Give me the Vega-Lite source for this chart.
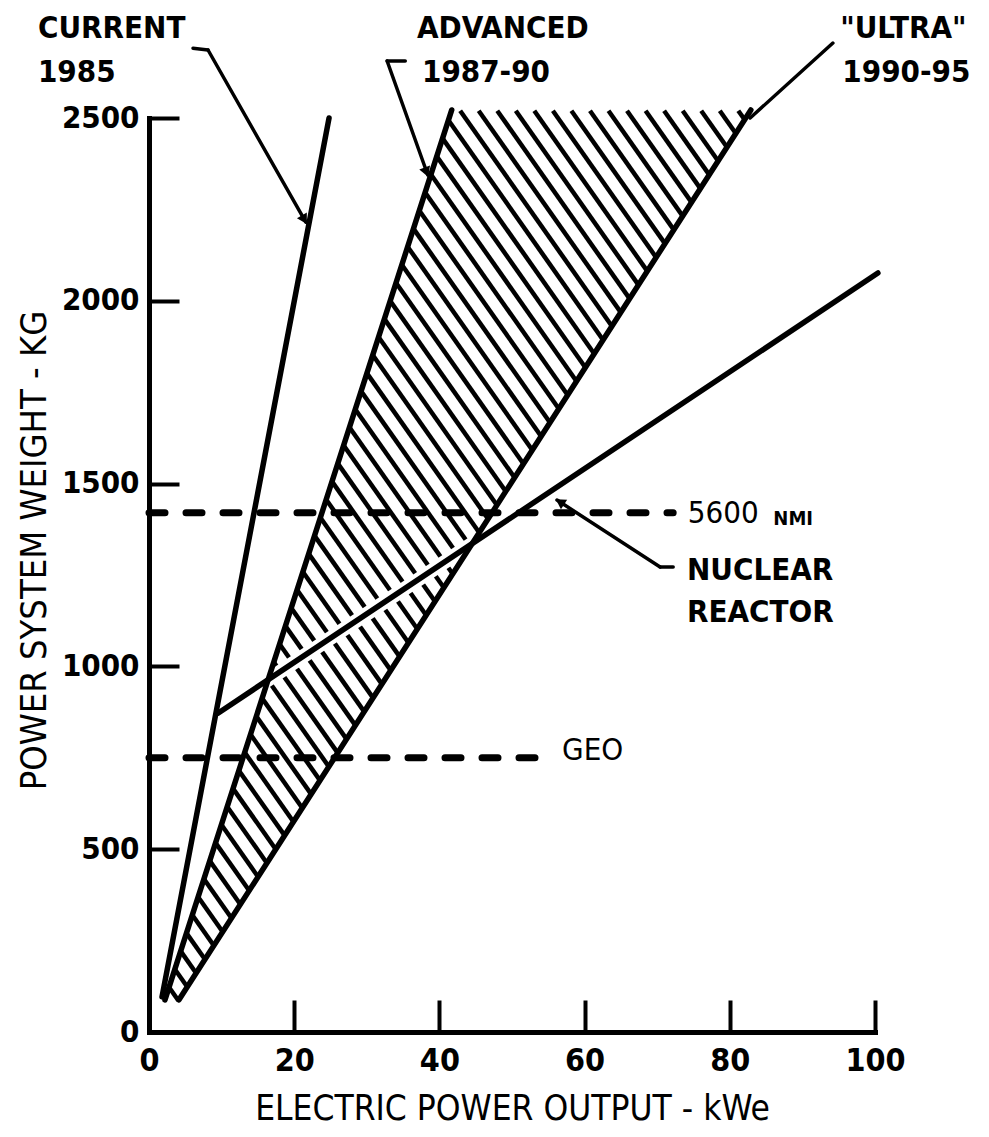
{
  "$schema": "https://vega.github.io/schema/vega-lite/v6.json",
  "width": 726,
  "height": 914,
  "autosize": "none",
  "padding": {"left": 149, "top": 118, "right": 114, "bottom": 105},
  "background": "white",
  "config": {
    "view": {"stroke": null},
    "font": "DejaVu Sans Condensed, Liberation Sans Narrow, sans-serif"
  },
  "datasets": {
    "hatch": [
      {"x": 2.76, "y": 122.3, "x2": 4.04, "y2": 86.1},
      {"x": 3.56, "y": 171.7, "x2": 5.26, "y2": 123.8},
      {"x": 4.36, "y": 221.1, "x2": 6.48, "y2": 161.4},
      {"x": 5.16, "y": 270.5, "x2": 7.70, "y2": 199.0},
      {"x": 5.97, "y": 319.9, "x2": 8.92, "y2": 236.6},
      {"x": 6.77, "y": 369.3, "x2": 10.14, "y2": 274.3},
      {"x": 7.57, "y": 418.7, "x2": 11.35, "y2": 311.9},
      {"x": 8.37, "y": 468.1, "x2": 12.57, "y2": 349.5},
      {"x": 9.17, "y": 517.4, "x2": 13.79, "y2": 387.2},
      {"x": 9.98, "y": 566.8, "x2": 15.01, "y2": 424.8},
      {"x": 10.78, "y": 616.2, "x2": 16.23, "y2": 462.4},
      {"x": 11.58, "y": 665.6, "x2": 17.45, "y2": 500.0},
      {"x": 12.38, "y": 715.0, "x2": 18.67, "y2": 537.7},
      {"x": 13.19, "y": 764.4, "x2": 19.89, "y2": 575.3},
      {"x": 13.99, "y": 813.8, "x2": 21.11, "y2": 612.9},
      {"x": 14.79, "y": 863.2, "x2": 22.33, "y2": 650.6},
      {"x": 15.59, "y": 912.6, "x2": 23.55, "y2": 688.2},
      {"x": 16.40, "y": 962.0, "x2": 24.77, "y2": 725.8},
      {"x": 17.20, "y": 1011.4, "x2": 25.99, "y2": 763.4},
      {"x": 18.00, "y": 1060.8, "x2": 27.21, "y2": 801.1},
      {"x": 18.80, "y": 1110.1, "x2": 28.43, "y2": 838.7},
      {"x": 19.60, "y": 1159.5, "x2": 29.64, "y2": 876.3},
      {"x": 20.41, "y": 1208.9, "x2": 30.86, "y2": 914.0},
      {"x": 21.21, "y": 1258.3, "x2": 32.08, "y2": 951.6},
      {"x": 22.01, "y": 1307.7, "x2": 33.30, "y2": 989.2},
      {"x": 22.81, "y": 1357.1, "x2": 34.52, "y2": 1026.8},
      {"x": 23.62, "y": 1406.5, "x2": 35.74, "y2": 1064.5},
      {"x": 24.42, "y": 1455.9, "x2": 36.96, "y2": 1102.1},
      {"x": 25.22, "y": 1505.3, "x2": 38.18, "y2": 1139.7},
      {"x": 26.02, "y": 1554.7, "x2": 39.40, "y2": 1177.4},
      {"x": 26.82, "y": 1604.0, "x2": 40.62, "y2": 1215.0},
      {"x": 27.63, "y": 1653.4, "x2": 41.84, "y2": 1252.6},
      {"x": 28.43, "y": 1702.8, "x2": 43.06, "y2": 1290.2},
      {"x": 29.23, "y": 1752.2, "x2": 44.28, "y2": 1327.9},
      {"x": 30.03, "y": 1801.6, "x2": 45.50, "y2": 1365.5},
      {"x": 30.84, "y": 1851.0, "x2": 46.71, "y2": 1403.1},
      {"x": 31.64, "y": 1900.4, "x2": 47.93, "y2": 1440.8},
      {"x": 32.44, "y": 1949.8, "x2": 49.15, "y2": 1478.4},
      {"x": 33.24, "y": 1999.2, "x2": 50.37, "y2": 1516.0},
      {"x": 34.04, "y": 2048.6, "x2": 51.59, "y2": 1553.6},
      {"x": 34.85, "y": 2097.9, "x2": 52.81, "y2": 1591.3},
      {"x": 35.65, "y": 2147.3, "x2": 54.03, "y2": 1628.9},
      {"x": 36.45, "y": 2196.7, "x2": 55.25, "y2": 1666.5},
      {"x": 37.25, "y": 2246.1, "x2": 56.47, "y2": 1704.2},
      {"x": 38.06, "y": 2295.5, "x2": 57.69, "y2": 1741.8},
      {"x": 38.86, "y": 2344.9, "x2": 58.91, "y2": 1779.4},
      {"x": 39.66, "y": 2394.3, "x2": 60.13, "y2": 1817.0},
      {"x": 40.46, "y": 2443.7, "x2": 61.35, "y2": 1854.7},
      {"x": 41.27, "y": 2493.1, "x2": 62.57, "y2": 1892.3},
      {"x": 42.86, "y": 2520, "x2": 63.79, "y2": 1929.9},
      {"x": 45.41, "y": 2520, "x2": 65.01, "y2": 1967.6},
      {"x": 47.97, "y": 2520, "x2": 66.22, "y2": 2005.2},
      {"x": 50.52, "y": 2520, "x2": 67.44, "y2": 2042.8},
      {"x": 53.07, "y": 2520, "x2": 68.66, "y2": 2080.4},
      {"x": 55.63, "y": 2520, "x2": 69.88, "y2": 2118.1},
      {"x": 58.18, "y": 2520, "x2": 71.10, "y2": 2155.7},
      {"x": 60.74, "y": 2520, "x2": 72.32, "y2": 2193.3},
      {"x": 63.29, "y": 2520, "x2": 73.54, "y2": 2231.0},
      {"x": 65.84, "y": 2520, "x2": 74.76, "y2": 2268.6},
      {"x": 68.40, "y": 2520, "x2": 75.98, "y2": 2306.2},
      {"x": 70.95, "y": 2520, "x2": 77.20, "y2": 2343.8},
      {"x": 73.51, "y": 2520, "x2": 78.42, "y2": 2381.5},
      {"x": 76.06, "y": 2520, "x2": 79.64, "y2": 2419.1},
      {"x": 78.62, "y": 2520, "x2": 80.86, "y2": 2456.7},
      {"x": 81.17, "y": 2520, "x2": 82.08, "y2": 2494.4}
    ],
    "curves": [
      {"name": "CURRENT 1985", "x": 1.79, "y": 96, "x2": 24.8, "y2": 2500},
      {"name": "ADVANCED 1987-90", "x": 2.2, "y": 88, "x2": 41.7, "y2": 2522},
      {"name": "ULTRA 1990-95", "x": 4.13, "y": 88, "x2": 82.9, "y2": 2522},
      {"name": "NUCLEAR REACTOR", "x": 9.5, "y": 872, "x2": 100.4, "y2": 2076}
    ],
    "levels": [
      {"name": "5600 NMI", "y": 1420, "x": 0, "x2": 72.2},
      {"name": "GEO", "y": 750, "x": 0, "x2": 54.5}
    ],
    "leaders": [
      {"name": "CURRENT", "x": 6.06, "y": 2691, "x2": 8.13, "y2": 2686},
      {"name": "CURRENT", "x": 8.13, "y": 2686, "x2": 21.6, "y2": 2215},
      {"name": "ADVANCED", "x": 35.3, "y": 2656, "x2": 32.8, "y2": 2656},
      {"name": "ADVANCED", "x": 32.8, "y": 2656, "x2": 38.4, "y2": 2344},
      {"name": "ULTRA", "x": 94.2, "y": 2705, "x2": 82.8, "y2": 2500},
      {"name": "NUCLEAR", "x": 72.2, "y": 1272, "x2": 70.4, "y2": 1272},
      {"name": "NUCLEAR", "x": 70.4, "y": 1272, "x2": 56.2, "y2": 1455}
    ],
    "arrows": [
      {"name": "CURRENT", "x": 21.4, "y": 2222},
      {"name": "ADVANCED", "x": 38.2, "y": 2352},
      {"name": "NUCLEAR", "x": 56.6, "y": 1450}
    ],
    "labels": [
      {"text": "CURRENT", "x": -15.3, "y": 2743},
      {"text": "1985", "x": -15.3, "y": 2623},
      {"text": "ADVANCED", "x": 36.9, "y": 2743},
      {"text": "1987-90", "x": 37.6, "y": 2623},
      {"text": "\"ULTRA\"", "x": 95.2, "y": 2743},
      {"text": "1990-95", "x": 95.5, "y": 2623},
      {"text": "NUCLEAR", "x": 74.1, "y": 1261},
      {"text": "REACTOR", "x": 74.1, "y": 1146}
    ],
    "notes": [
      {"text": "5600", "x": 74.2, "y": 1417},
      {"text": "GEO", "x": 56.9, "y": 769}
    ],
    "units": [
      {"text": "NMI", "x": 86.0, "y": 1404}
    ]
  },
  "encoding": {
    "x": {
      "field": "x",
      "type": "quantitative",
      "scale": {"domain": [0, 100], "nice": false, "zero": false},
      "axis": {
        "values": [0, 20, 40, 60, 80, 100],
        "format": "d",
        "title": "ELECTRIC POWER OUTPUT - kWe",
        "grid": false,
        "domainColor": "black",
        "domainWidth": 5,
        "domainCap": "square",
        "tickColor": "black",
        "tickWidth": 4,
        "tickSize": -32,
        "labelFontSize": 32,
        "labelFontWeight": "bold",
        "labelColor": "black",
        "labelPadding": 45,
        "labelFlush": false,
        "labelOverlap": false,
        "titleFontSize": 35,
        "titleFontWeight": "normal",
        "titleColor": "black",
        "titleY": 76,
        "titleBaseline": "middle"
      }
    },
    "y": {
      "field": "y",
      "type": "quantitative",
      "scale": {"domain": [0, 2500], "nice": false, "zero": false},
      "axis": {
        "values": [0, 500, 1000, 1500, 2000, 2500],
        "format": "d",
        "title": "POWER SYSTEM WEIGHT - KG",
        "grid": false,
        "domainColor": "black",
        "domainWidth": 5,
        "domainCap": "square",
        "tickColor": "black",
        "tickWidth": 4,
        "tickSize": -30,
        "labelFontSize": 31,
        "labelFontWeight": "bold",
        "labelColor": "black",
        "labelPadding": 40,
        "labelFlush": false,
        "labelOverlap": false,
        "titleFontSize": 36,
        "titleFontWeight": "normal",
        "titleColor": "black",
        "titleX": -115,
        "titleY": 432,
        "titleAngle": 270,
        "titleAlign": "center",
        "titleBaseline": "middle"
      }
    }
  },
  "layer": [
    {
      "data": {"name": "hatch"},
      "mark": {"type": "rule", "color": "black", "strokeWidth": 4.5, "clip": false},
      "encoding": {"x2": {"field": "x2"}, "y2": {"field": "y2"}}
    },
    {
      "data": {"name": "curves"},
      "transform": [{"filter": "datum.name === 'NUCLEAR REACTOR'"}],
      "mark": {"type": "rule", "color": "white", "strokeWidth": 14, "clip": false},
      "encoding": {"x2": {"field": "x2"}, "y2": {"field": "y2"}}
    },
    {
      "data": {"name": "curves"},
      "mark": {"type": "rule", "color": "black", "strokeWidth": 5.5, "strokeCap": "round", "clip": false},
      "encoding": {"x2": {"field": "x2"}, "y2": {"field": "y2"}}
    },
    {
      "data": {"name": "levels"},
      "mark": {"type": "rule", "color": "black", "strokeWidth": 7, "strokeCap": "round", "strokeDash": [16, 21]},
      "encoding": {"x2": {"field": "x2"}}
    },
    {
      "data": {"name": "leaders"},
      "mark": {"type": "rule", "color": "black", "strokeWidth": 3.5, "strokeCap": "round", "clip": false},
      "encoding": {"x2": {"field": "x2"}, "y2": {"field": "y2"}}
    },
    {
      "data": {"name": "arrows"},
      "transform": [{"filter": "datum.name === 'CURRENT'"}],
      "mark": {"type": "point", "shape": "triangle-down", "filled": true, "color": "black", "size": 130, "angle": 330, "opacity": 1}
    },
    {
      "data": {"name": "arrows"},
      "transform": [{"filter": "datum.name === 'ADVANCED'"}],
      "mark": {"type": "point", "shape": "triangle-down", "filled": true, "color": "black", "size": 130, "angle": 340, "opacity": 1}
    },
    {
      "data": {"name": "arrows"},
      "transform": [{"filter": "datum.name === 'NUCLEAR'"}],
      "mark": {"type": "point", "shape": "triangle-up", "filled": true, "color": "black", "size": 130, "angle": 303, "opacity": 1}
    },
    {
      "data": {"name": "labels"},
      "mark": {"type": "text", "align": "left", "baseline": "middle", "fontSize": 31, "fontWeight": "bold", "color": "black"},
      "encoding": {"text": {"field": "text"}}
    },
    {
      "data": {"name": "notes"},
      "mark": {"type": "text", "align": "left", "baseline": "middle", "fontSize": 31, "fontWeight": "normal", "color": "black"},
      "encoding": {"text": {"field": "text"}}
    },
    {
      "data": {"name": "units"},
      "mark": {"type": "text", "align": "left", "baseline": "middle", "fontSize": 20, "fontWeight": "bold", "color": "black"},
      "encoding": {"text": {"field": "text"}}
    }
  ]
}
